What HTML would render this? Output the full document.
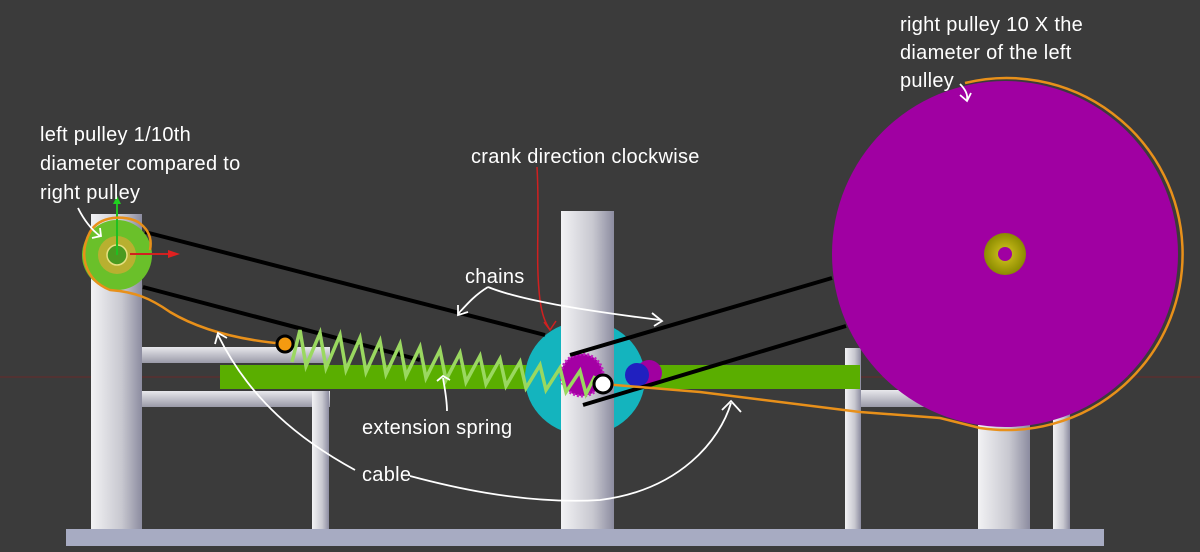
<!DOCTYPE html>
<html><head><meta charset="utf-8"><style>
body{margin:0;background:#3b3b3b}
svg{display:block}
text{font-family:"Liberation Sans",sans-serif;font-size:20px;fill:#fff;letter-spacing:0.3px}
</style></head><body>
<svg width="1200" height="552" viewBox="0 0 1200 552" xmlns="http://www.w3.org/2000/svg">
<defs>
<linearGradient id="post" x1="0" x2="1"><stop offset="0" stop-color="#f2f2f4"/><stop offset="0.6" stop-color="#c8c8d0"/><stop offset="1" stop-color="#8c8ca0"/></linearGradient>
<linearGradient id="bar" x1="0" y1="0" x2="0" y2="1"><stop offset="0" stop-color="#e8e8ec"/><stop offset="1" stop-color="#9a9aa8"/></linearGradient>
<radialGradient id="hub"><stop offset="0" stop-color="#d8c820"/><stop offset="1" stop-color="#8a8a00"/></radialGradient>
</defs>
<rect width="1200" height="552" fill="#3b3b3b"/>
<line x1="0" y1="377" x2="1200" y2="377" stroke="#6a2a2a" stroke-width="1"/>
<rect x="66" y="529" width="1038" height="17" fill="#a7abc2"/>
<rect x="142" y="347" width="188" height="16" fill="url(#bar)"/>
<rect x="142" y="391" width="188" height="16" fill="url(#bar)"/>
<rect x="312" y="391" width="17" height="138" fill="url(#post)"/>
<rect x="91" y="214" width="51" height="315" fill="url(#post)"/>
<rect x="845" y="348" width="16" height="181" fill="url(#post)"/>
<rect x="861" y="390" width="192" height="17" fill="url(#bar)"/>
<rect x="1053" y="390" width="17" height="139" fill="url(#post)"/>
<rect x="978" y="425" width="52" height="104" fill="url(#post)"/>
<rect x="220" y="365" width="640" height="24" fill="#5aae00"/>
<ellipse cx="585" cy="378" rx="60" ry="57" fill="#14b4be"/>
<rect x="561" y="211" width="53" height="318" fill="url(#post)"/>
<circle cx="649" cy="373" r="13" fill="#a000a0"/>
<circle cx="637" cy="375" r="12" fill="#2020c0"/>
<circle cx="582" cy="375" r="21" fill="#a400a4" stroke="#c020c0" stroke-width="3" stroke-dasharray="2 2"/>
<circle cx="1005" cy="254" r="173" fill="#a000a2"/>
<circle cx="1005" cy="254" r="21" fill="url(#hub)"/>
<circle cx="1005" cy="254" r="7" fill="#a000a2"/>
<circle cx="117" cy="255" r="35" fill="#6ac02a"/>
<circle cx="117" cy="255" r="19" fill="#b8b030"/>
<circle cx="117" cy="255" r="10" fill="#4a9a20" stroke="#e8e080" stroke-width="1.5"/>
<line x1="117" y1="255" x2="117" y2="200" stroke="#20c020" stroke-width="2"/>
<polygon points="113,204 121,204 117,196" fill="#20d020"/>
<line x1="130" y1="254" x2="175" y2="254" stroke="#d02020" stroke-width="2"/>
<polygon points="168,250 180,254 168,258" fill="#e02020"/>
<g stroke="#000" stroke-width="4" fill="none">
<line x1="145" y1="232" x2="545" y2="335"/>
<line x1="143" y1="287" x2="420" y2="360"/>
<line x1="570" y1="355" x2="832" y2="278"/>
<line x1="583" y1="405" x2="846" y2="326"/>
</g>
<polyline fill="none" stroke="#9ad860" stroke-width="3.5" points="292,362 300,330 306,366 320,333 326,368 340,335 346,370 360,338 366,372 380,341 386,374 400,344 406,376 420,347 426,378 440,350 446,380 460,353 466,382 480,356 486,384 500,359 506,386 520,362 526,388 540,365 546,390 560,368 566,392 580,371 586,394 595,376"/>
<g fill="none" stroke="#e8901a" stroke-width="2.5">
<path d="M285,344 C240,340 200,330 170,312 C150,298 135,292 110,290 C85,280 78,255 90,232 C100,215 125,215 138,222 C150,230 152,240 150,250"/>
<path d="M603,384 L700,392 L860,412 L940,418 L980,428 A176 176 0 1 0 965,83"/>
</g>
<circle cx="285" cy="344" r="8" fill="#f49a10" stroke="#000" stroke-width="3"/>
<circle cx="603" cy="384" r="9" fill="#fff" stroke="#000" stroke-width="3"/>
<path d="M537,167 C540,220 535,260 540,300 C542,315 545,322 550,330" fill="none" stroke="#d02020" stroke-width="1.5"/>
<path d="M544,322 L550,330 L556,321" fill="none" stroke="#d02020" stroke-width="1.5"/>
<g fill="none" stroke="#fff" stroke-width="1.8">
<path d="M78,208 C85,222 92,230 100,236"/><path d="M92,238 L101,236 L100,228"/>
<path d="M488,287 C475,295 468,303 458,314"/><path d="M458,305 L458,315 L468,312"/>
<path d="M488,287 C520,300 580,310 660,320"/><path d="M652,313 L662,321 L654,326"/>
<path d="M443,378 C445,390 447,400 447,411"/><path d="M437,381 L443,376 L450,380"/>
<path d="M410,476 C440,484 520,505 600,500 C680,490 720,440 731,403"/><path d="M722,410 L731,401 L741,412"/>
<path d="M355,470 C300,440 250,400 218,335"/><path d="M215,344 L218,333 L227,338"/>
<path d="M960,84 C966,90 968,95 967,100"/><path d="M960,95 L967,101 L971,93"/>
</g>
<text x="40" y="141">left pulley 1/10th</text>
<text x="40" y="170">diameter compared to</text>
<text x="40" y="199">right pulley</text>
<text x="471" y="163">crank direction clockwise</text>
<text x="465" y="283">chains</text>
<text x="362" y="434">extension spring</text>
<text x="362" y="481">cable</text>
<text x="900" y="31">right pulley 10 X the</text>
<text x="900" y="59">diameter of the left</text>
<text x="900" y="87">pulley</text>
</svg>
</body></html>
